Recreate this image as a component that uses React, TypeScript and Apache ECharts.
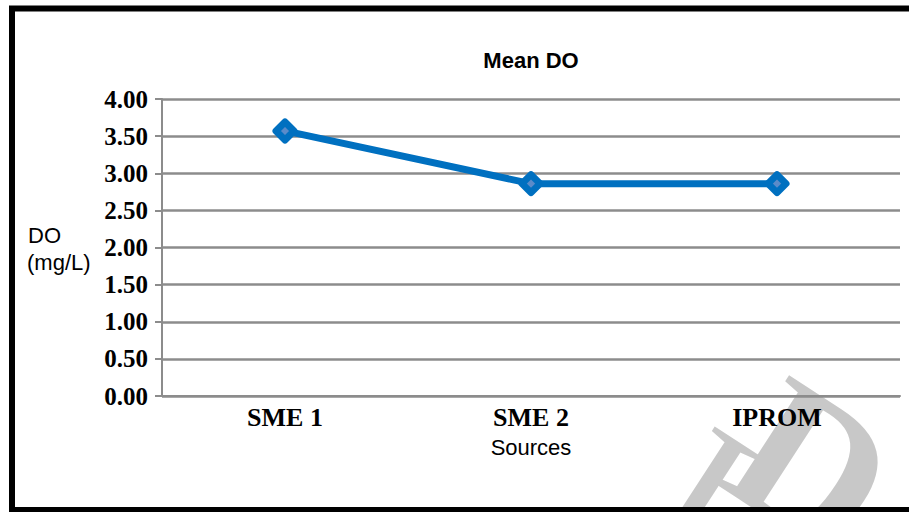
import React, { useEffect, useRef } from "react";
import * as echarts from "echarts";

// Mean dissolved oxygen per source
const categories: string[] = ["SME 1", "SME 2", "IPROM"];
const meanDO: number[] = [3.57, 2.86, 2.86];
const yMin = 0;
const yMax = 4;
const yStep = 0.5;

const GRID_GRAY = "#8c8c8c";
const LINE_BLUE = "#0070C0";
const SERIF = "'Liberation Serif', 'Times New Roman', serif";
const SANS = "'Liberation Sans', Arial, sans-serif";

export default function App() {
  const ref = useRef<HTMLDivElement | null>(null);

  useEffect(() => {
    if (!ref.current) return;
    const chart = echarts.init(ref.current, undefined, { renderer: "svg" });
    const deg = Math.PI / 180;

    chart.setOption({
      animation: false,
      backgroundColor: "#ffffff",
      grid: { left: 162, right: 9, top: 99, bottom: 116, containLabel: false },
      xAxis: {
        type: "category",
        data: categories,
        boundaryGap: true,
        axisLine: { show: true, lineStyle: { color: GRID_GRAY, width: 2 } },
        axisTick: { show: false },
        axisLabel: {
          color: "#000",
          fontFamily: SERIF,
          fontWeight: "bold",
          fontSize: 26,
          margin: 8,
        },
        name: "Sources",
        nameLocation: "middle",
        nameGap: 40,
        nameTextStyle: { color: "#000", fontFamily: SANS, fontSize: 22 },
      },
      yAxis: {
        type: "value",
        min: yMin,
        max: yMax,
        interval: yStep,
        axisLine: { show: true, lineStyle: { color: GRID_GRAY, width: 2 } },
        axisTick: { show: true, length: 7, lineStyle: { color: GRID_GRAY, width: 2 } },
        splitLine: { show: true, lineStyle: { color: GRID_GRAY, width: 2.5 } },
        axisLabel: {
          color: "#000",
          fontFamily: SERIF,
          fontWeight: "bold",
          fontSize: 25,
          margin: 14,
          formatter: (v: number) => v.toFixed(2),
        },
      },
      series: [
        {
          type: "line",
          data: meanDO,
          symbol: "diamond",
          symbolSize: 18,
          z: 5,
          lineStyle: { color: LINE_BLUE, width: 7 },
          itemStyle: {
            color: "#5b8bc9",
            borderColor: LINE_BLUE,
            borderWidth: 7,
            borderJoin: "round",
          },
        },
      ],
      graphic: [
        // faint watermark letters in the lower right
        {
          type: "text",
          z: -10,
          x: 702,
          y: 494,
          rotation: -33 * deg,
          style: {
            text: "I",
            fill: "#c8c8c8",
            font: `200px ${SERIF}`,
            align: "center",
            verticalAlign: "middle",
          },
        },
        {
          type: "text",
          z: -10,
          x: 812,
          y: 466,
          rotation: -33 * deg,
          style: {
            text: "D",
            fill: "#c8c8c8",
            font: `bold 200px ${SERIF}`,
            align: "center",
            verticalAlign: "middle",
          },
        },
        {
          type: "text",
          z: 50,
          x: 531,
          y: 60,
          style: {
            text: "Mean DO",
            fill: "#000",
            font: `bold 22px ${SANS}`,
            align: "center",
            verticalAlign: "middle",
          },
        },
        {
          type: "text",
          z: 50,
          x: 28,
          y: 235,
          style: {
            text: "DO",
            fill: "#000",
            font: `22px ${SANS}`,
            align: "left",
            verticalAlign: "middle",
          },
        },
        {
          type: "text",
          z: 50,
          x: 27,
          y: 262,
          style: {
            text: "(mg/L)",
            fill: "#000",
            font: `22px ${SANS}`,
            align: "left",
            verticalAlign: "middle",
          },
        },
        // outer frame, open on the right
        {
          type: "rect",
          z: 100,
          shape: { x: 12, y: 8.5, width: 1000, height: 501.5 },
          style: { fill: "none", stroke: "#000", lineWidth: 6 },
        },
      ],
    });

    return () => chart.dispose();
  }, []);

  return (
    <div
      ref={ref}
      style={{ position: "absolute", left: 0, top: 0, width: 909, height: 512 }}
    />
  );
}
